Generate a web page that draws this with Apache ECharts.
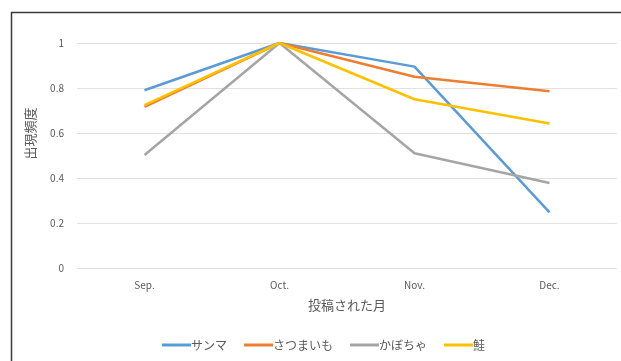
<!DOCTYPE html>
<html>
<head>
<meta charset="utf-8">
<script src="https://cdn.jsdelivr.net/npm/echarts@6/dist/echarts.min.js"></script>
<style>
  html, body { margin: 0; padding: 0; background: #fff; }
  #chart { width: 621px; height: 361px; }
</style>
</head>
<body>
<div id="chart"></div>
<script>
// Months in which the posts were made
const months = ['Sep.', 'Oct.', 'Nov.', 'Dec.'];

// Relative frequency of each keyword per month
const sanma = [0.79, 1.0, 0.895, 0.247];
const satsumaimo = [0.716, 1.0, 0.85, 0.786];
const kabocha = [0.502, 1.0, 0.51, 0.378];
const sake = [0.724, 1.0, 0.75, 0.642];

const seriesNames = ['サンマ', 'さつまいも', 'かぼちゃ', '鮭'];
const seriesData = [sanma, satsumaimo, kabocha, sake];
const seriesColors = ['#5B9BD5', '#ED7D31', '#A5A5A5', '#FFC000'];

const yTicks = [0, 0.2, 0.4, 0.6, 0.8, 1];

const font = '"Noto Sans CJK JP", "Noto Sans", sans-serif';
const textColor = '#595959';

const chart = echarts.init(document.getElementById('chart'), null, { renderer: 'canvas' });

chart.setOption({
  animation: false,
  backgroundColor: '#fff',
  graphic: [{
    type: 'rect',
    shape: { x: 11.5, y: 12.5, width: 640, height: 400 },
    style: { fill: 'none', stroke: '#3a3a3a', lineWidth: 1.5 },
    silent: true,
    z: -1
  }],
  grid: { left: 77, right: 4, top: 43, bottom: 93 },
  legend: {
    data: seriesNames,
    bottom: 5,
    left: 157,
    icon: 'rect',
    itemWidth: 29,
    itemHeight: 3,
    itemGap: 17,
    textStyle: { color: textColor, fontSize: 12, fontFamily: font, padding: [0, 0, 0, -5] }
  },
  xAxis: {
    type: 'category',
    data: months,
    boundaryGap: true,
    name: '投稿された月',
    nameLocation: 'middle',
    nameGap: 31,
    nameTextStyle: { color: textColor, fontSize: 13, fontFamily: font },
    axisLine: { show: false },
    axisTick: { show: false },
    axisLabel: { color: textColor, fontSize: 10, fontFamily: font, margin: 12 }
  },
  yAxis: {
    type: 'value',
    min: yTicks[0],
    max: yTicks[yTicks.length - 1],
    interval: 0.2,
    name: '出現頻度',
    nameLocation: 'middle',
    nameGap: 40,
    nameRotate: 90,
    nameTextStyle: { color: textColor, fontSize: 13, fontFamily: font, padding: [0, 0, 0, 44] },
    axisLine: { show: false },
    axisTick: { show: false },
    axisLabel: {
      color: textColor, fontSize: 10, fontFamily: font, margin: 13,
      formatter: v => String(Math.round(v * 10) / 10)
    },
    splitLine: { lineStyle: { color: '#e3e0de', width: 1 } }
  },
  series: seriesNames.map((name, i) => ({
    name,
    type: 'line',
    data: seriesData[i],
    symbol: 'none',
    color: seriesColors[i],
    lineStyle: { width: 2.5, color: seriesColors[i] }
  }))
});
</script>
</body>
</html>
